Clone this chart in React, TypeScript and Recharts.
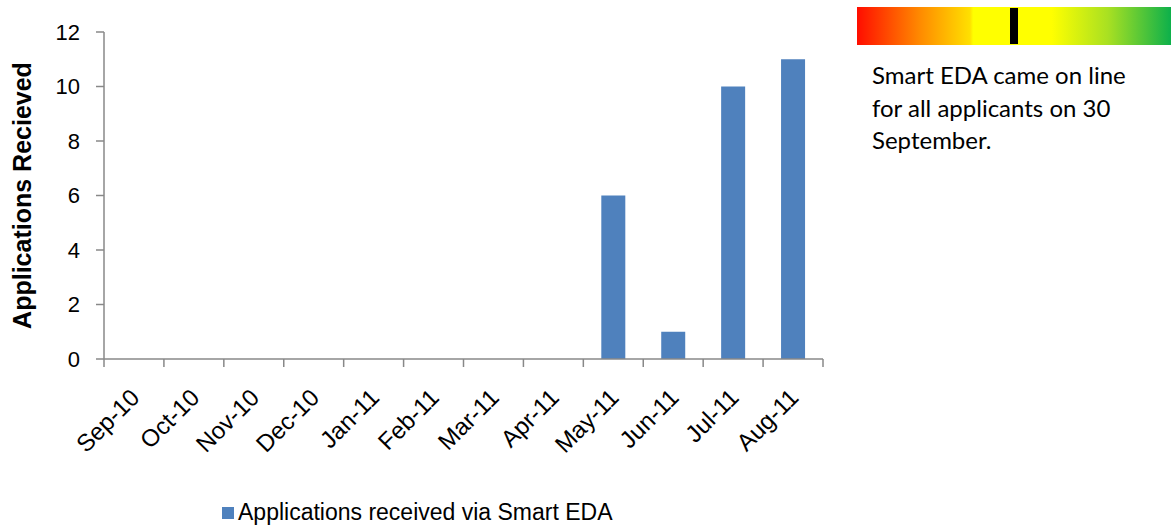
import React from 'react';
import { BarChart, Bar, XAxis, YAxis, Legend, Customized } from 'recharts';

const months = ['Sep-10', 'Oct-10', 'Nov-10', 'Dec-10', 'Jan-11', 'Feb-11', 'Mar-11', 'Apr-11', 'May-11', 'Jun-11', 'Jul-11', 'Aug-11'];
const applications = [0, 0, 0, 0, 0, 0, 0, 0, 6, 1, 10, 11];
const yTicks = [0, 2, 4, 6, 8, 10, 12];
const seriesName = 'Applications received via Smart EDA';
const yLabel = 'Applications Recieved';
const noteLines = ['Smart EDA came on line', 'for all applicants on 30', 'September.'];

const data = months.map((m, i) => ({ month: m, value: applications[i] }));

const AXIS = '#888888';
const BAR = '#4F81BD';
const FONT = '"Liberation Sans", Arial, sans-serif';

const XTick = (props: any) => {
  const { x, y, payload, index, visibleTicksCount, width } = props;
  const half = payload && payload.offset ? payload.offset : width / visibleTicksCount / 2;
  const last = index === visibleTicksCount - 1;
  const ax = x + 7;
  const ay = y + 40;
  return (
    <g>
      <line x1={x - half} y1={y} x2={x - half} y2={y + 8} stroke={AXIS} strokeWidth={1.5} />
      {last && <line x1={x + half} y1={y} x2={x + half} y2={y + 8} stroke={AXIS} strokeWidth={1.5} />}
      <text
        x={ax}
        y={ay}
        transform={`rotate(-45, ${ax}, ${ay})`}
        textAnchor="end"
        fontFamily={FONT}
        fontSize={24}
        fill="#000"
      >
        {payload.value}
      </text>
    </g>
  );
};

const YLabel = (props: any) => {
  const vb = props.viewBox || {};
  const cy = vb.y + vb.height / 2;
  const x = 31;
  return (
    <text
      x={x}
      y={cy}
      transform={`rotate(-90, ${x}, ${cy})`}
      textAnchor="middle"
      fontFamily={FONT}
      fontWeight="bold"
      fontSize={25}
      fill="#000"
    >
      {yLabel}
    </text>
  );
};

const Note = () => (
  <g>
    <defs>
      <linearGradient id="scaleGrad" x1="0" y1="0" x2="1" y2="0">
        <stop offset="0" stopColor="#FF0D00" />
        <stop offset="0.2" stopColor="#FF8A00" />
        <stop offset="0.36" stopColor="#FFE000" />
        <stop offset="0.37" stopColor="#FFFF00" />
        <stop offset="0.62" stopColor="#FFFF00" />
        <stop offset="0.8" stopColor="#A8E022" />
        <stop offset="1" stopColor="#0DB04B" />
      </linearGradient>
    </defs>
    <rect x={857} y={7} width={314} height={38} fill="url(#scaleGrad)" />
    <rect x={1010} y={8} width={8} height={36} fill="#000" />
    {noteLines.map((t, i) => (
      <text key={i} x={872} y={84 + i * 32.5} fontFamily='Lato, "Open Sans", sans-serif' fontSize={24} fill="#000">
        {t}
      </text>
    ))}
  </g>
);

const LegendContent = () => (
  <div style={{ display: 'flex', alignItems: 'center', fontFamily: FONT, fontSize: 23, color: '#000', whiteSpace: 'nowrap' }}>
    <span style={{ display: 'inline-block', width: 12, height: 12, background: BAR, marginRight: 4 }} />
    <span>{seriesName}</span>
  </div>
);

export default function App() {
  return (
    <div style={{ position: 'absolute', left: 0, top: 0, width: 1171, height: 529, background: '#fff' }}>
      <BarChart
        width={1171}
        height={529}
        data={data}
        margin={{ top: 32, right: 348, bottom: 0, left: 0 }}
        barCategoryGap="30%"
      >
        <XAxis
          dataKey="month"
          height={140}
          interval={0}
          stroke={AXIS}
          strokeWidth={1.5}
          tickLine={false}
          tickSize={0}
          tickMargin={0}
          tick={<XTick />}
        />
        <YAxis
          width={104}
          domain={[0, 12]}
          ticks={yTicks}
          interval={0}
          stroke={AXIS}
          strokeWidth={1.5}
          tickSize={8}
          tickMargin={16}
          tick={{ fill: '#000', fontSize: 22, fontFamily: FONT }}
          label={<YLabel />}
        />
        <Legend
          verticalAlign="bottom"
          height={30}
          content={<LegendContent />}
          wrapperStyle={{ left: 222, width: 'auto' }}
        />
        <Bar dataKey="value" name={seriesName} fill={BAR} isAnimationActive={false} />
        <Customized component={Note} />
      </BarChart>
    </div>
  );
}
